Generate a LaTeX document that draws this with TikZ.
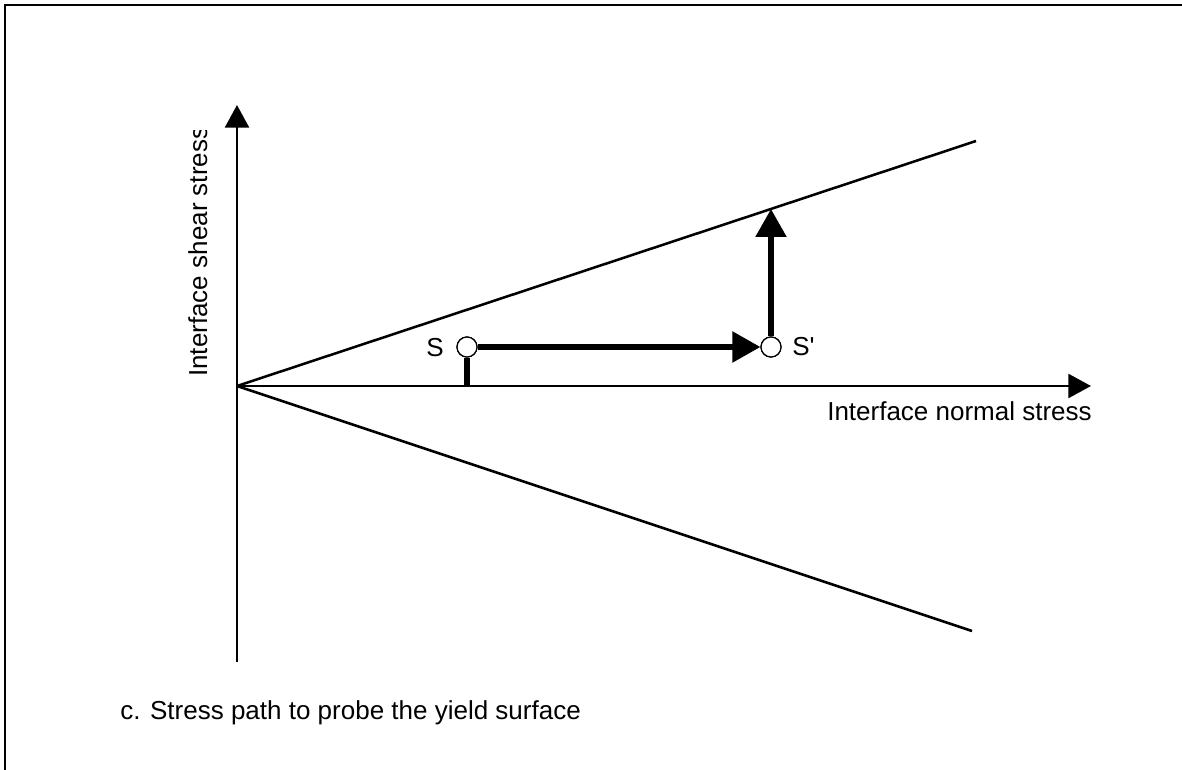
\documentclass[tikz,border=0pt]{standalone}
\usepackage{fontspec}
\setmainfont{Liberation Sans}
\usetikzlibrary{arrows.meta}
\begin{document}
\begin{tikzpicture}[x=0.75pt,y=-0.75pt,
  axisline/.style={line width=1.9pt},
  thinline/.style={line width=1.9pt},
  pathline/.style={line width=4pt},
  axisarrow/.style={-{Triangle[width=18pt,length=17pt]}},
  patharrow/.style={-{Triangle[width=22.5pt,length=21pt]}},
  statept/.style={circle,draw,fill=white,line width=0.9pt,minimum size=15pt,inner sep=0pt},
  lbl/.style={inner sep=0pt,font=\fontsize{19.5}{23}\selectfont}]
\useasboundingbox (0,0) rectangle (1182,770);
\draw[line width=1.5pt] (5,770) -- (5,5) -- (1182,5);
% coordinates
\coordinate (o) at (237,386);
\coordinate (ytop) at (237,105);
\coordinate (ybot) at (237,662);
\coordinate (xend) at (1091,386);
\coordinate (up) at (976,141);
\coordinate (lo) at (972,631);
\coordinate (yield) at (771,209);
% axes and yield lines
\draw[axisline,axisarrow] (ybot) -- (ytop);
\draw[axisline,axisarrow] (o) -- (xend);
\draw[thinline] (o) -- (up);
\draw[thinline] (o) -- (lo);
% states
\node[statept] (s) at (467,347) {};
\node[statept] (sp) at (771,347) {};
\draw[pathline] (s) -- (s |- o);
\draw[pathline,patharrow] (s) -- (sp);
\draw[pathline,patharrow] (sp) -- (yield);
\node[statept] at (s) {};
\node[statept] at (sp) {};
% labels
\node[lbl] (slab) at (435,348) {S};
\node[lbl,anchor=west] (splab) at (792,347) {S\textquotesingle};
\node[lbl,anchor=base west] (xlab) at (827,420) {Interface normal stress};
\begin{scope}
\clip (150,131) rectangle (232,500);
\node[lbl,anchor=base west,rotate=90] (ylab) at (207,377) {Interface shear stress};
\end{scope}
\node[lbl,anchor=base west] (cap) at (120,719) {c. Stress path to probe the yield surface};
\end{tikzpicture}
\end{document}
